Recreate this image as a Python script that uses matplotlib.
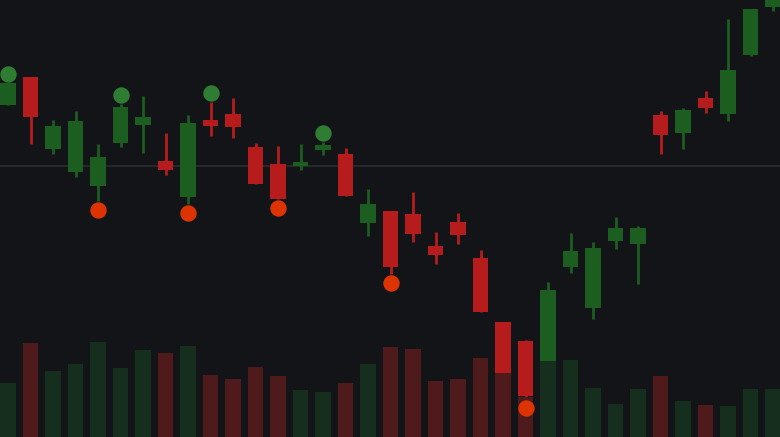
import numpy as np
import matplotlib.pyplot as plt
from matplotlib.transforms import offset_copy

# OHLC per bar
opens = [119.5, 122.3, 115.1, 112.8, 111.4, 115.7, 117.5, 113.9, 110.3, 118.0,
         118.6, 115.3, 113.6, 113.4, 115.0, 114.6, 107.7, 108.9, 108.6, 105.4,
         107.8, 104.2, 97.8, 95.9, 93.2, 103.3, 99.2, 105.9, 105.6, 118.5,
         116.7, 120.2, 118.6, 124.5, 129.3]
highs = [121.7, 122.3, 118.0, 118.9, 115.6, 119.6, 120.4, 116.7, 118.5, 119.8,
         120.2, 115.7, 115.4, 115.6, 115.8, 115.2, 111.1, 108.9, 110.8, 106.8,
         108.7, 105.0, 97.8, 96.0, 101.8, 106.7, 105.8, 108.3, 107.4, 118.9,
         119.2, 120.9, 128.1, 129.1, 131.0]
lows = [119.5, 115.6, 114.6, 112.3, 109.9, 115.3, 114.7, 112.5, 109.6, 116.4,
        116.2, 111.6, 110.1, 113.0, 114.5, 110.4, 106.4, 102.6, 105.8, 103.6,
        105.6, 98.8, 92.4, 90.1, 92.8, 102.7, 98.1, 105.1, 101.6, 114.6,
        115.1, 118.7, 117.9, 124.4, 128.9]
closes = [121.7, 118.3, 117.4, 117.9, 114.3, 119.3, 118.3, 113.0, 117.7, 117.4,
          117.3, 111.6, 110.1, 113.8, 115.5, 110.4, 109.6, 103.3, 106.6, 104.5,
          106.5, 98.8, 92.7, 90.4, 101.0, 104.9, 105.2, 107.2, 107.2, 116.5,
          119.0, 119.2, 123.0, 129.1, 130.6]
volumes = [54, 94, 66, 73, 95, 69, 87, 84, 91, 62,
           58, 70, 61, 47, 45, 54, 73, 90, 88, 56,
           58, 79, 64, 40, 76, 77, 49, 33, 48, 61,
           36, 32, 31, 48, 48]
volumes = [v * 1000 for v in volumes]

buy_signals = [0, 5, 9, 14]
sell_signals = [4, 8, 12, 17, 23]
ref_price = 113.4

bg = '#131418'
up_col, down_col = '#1b5e20', '#b71c1c'
up_vol, down_vol = '#162e1d', '#4e1a1c'

n = len(opens)
x = np.arange(n)
o = np.array(opens); c = np.array(closes)
up = c >= o

fig = plt.figure(figsize=(7.8, 4.37), dpi=100, facecolor=bg)
ax = fig.add_axes([0, 0, 1, 1])
ax.set_facecolor(bg)

ax.axhline(ref_price, color='#2c2d30', lw=1.2, zorder=1)
cols = np.where(up, up_col, down_col)
ax.vlines(x, lows, highs, colors=cols, lw=2.0, zorder=2)
ax.bar(x, np.abs(c - o), bottom=np.minimum(o, c), width=0.71, color=cols, zorder=3)
ax.set_xlim(-8 / 22.5, 772 / 22.5)
ax.set_ylim(86.3, 130)
ax.set_axis_off()

ax2 = ax.twinx()
ax2.bar(x, volumes, width=0.71, color=np.where(up, up_vol, down_vol), zorder=2)
ax2.set_ylim(0, 437000)
ax2.set_xlim(ax.get_xlim())
ax2.set_axis_off()

# signal markers above highs / below lows
above = offset_copy(ax.transData, fig=fig, y=9, units='dots')
below = offset_copy(ax.transData, fig=fig, y=-9, units='dots')
ax2.plot(buy_signals, [highs[i] for i in buy_signals], 'o', color='#2e7d32',
         ms=11.8, mec='none', transform=above, zorder=5, clip_on=False)
ax2.plot(sell_signals, [lows[i] for i in sell_signals], 'o', color='#dd3300',
         ms=11.8, mec='none', transform=below, zorder=5, clip_on=False)
ax2.set_ylim(0, 437000)

fig.savefig('out.png', facecolor=bg)
